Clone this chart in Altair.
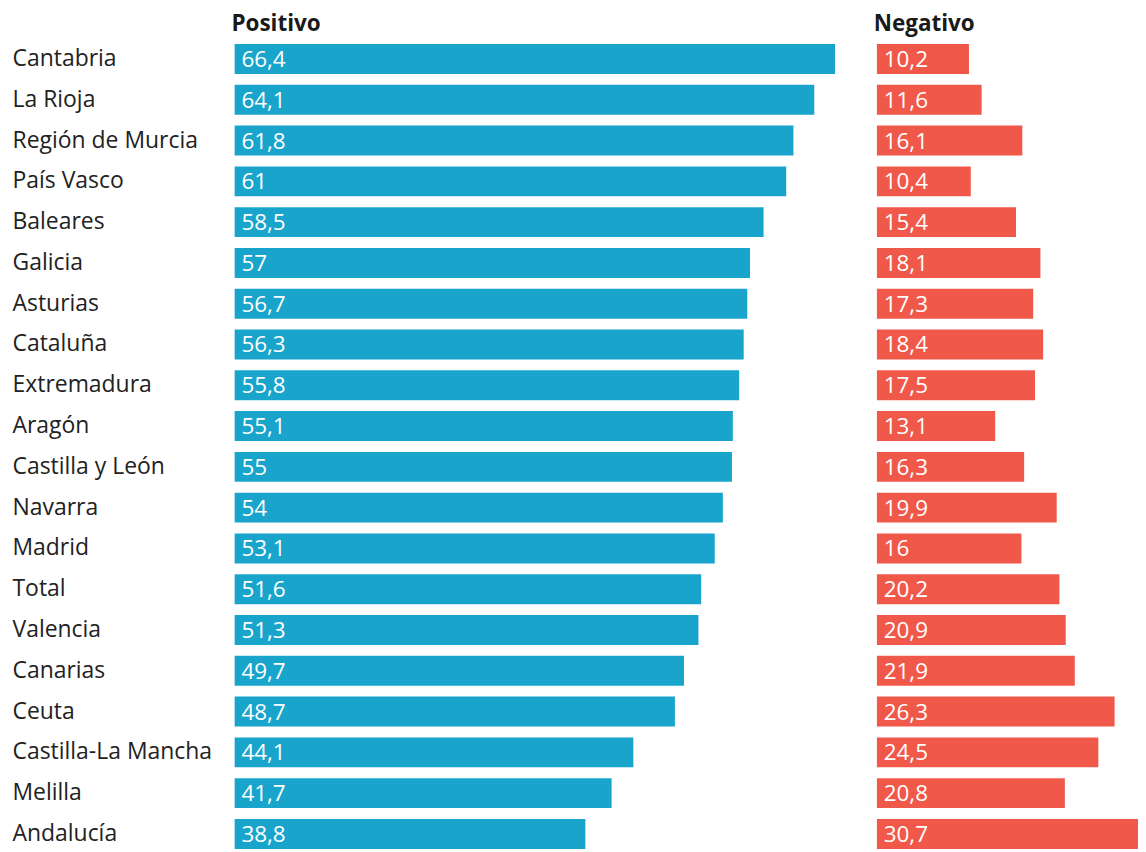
import altair as alt
import pandas as pd

regiones = ["Cantabria", "La Rioja", "Región de Murcia", "País Vasco", "Baleares", "Galicia",
            "Asturias", "Cataluña", "Extremadura", "Aragón", "Castilla y León", "Navarra",
            "Madrid", "Total", "Valencia", "Canarias", "Ceuta", "Castilla-La Mancha",
            "Melilla", "Andalucía"]
positivo = [66.4, 64.1, 61.8, 61, 58.5, 57, 56.7, 56.3, 55.8, 55.1, 55, 54, 53.1, 51.6,
            51.3, 49.7, 48.7, 44.1, 41.7, 38.8]
negativo = [10.2, 11.6, 16.1, 10.4, 15.4, 18.1, 17.3, 18.4, 17.5, 13.1, 16.3, 19.9, 16,
            20.2, 20.9, 21.9, 26.3, 24.5, 20.8, 30.7]

df = pd.DataFrame({"region": regiones, "pos": positivo, "neg": negativo})

FONT = "Open Sans"
BLUE = "#19a4cb"
RED = "#f0584a"
PX = 9.07  # pixels per unit
LW, RW = 620, 262
H = 807

yscale = alt.Scale(domain=regiones, paddingInner=0.266, paddingOuter=0)

def panel(field, color, width, title, show_axis):
    base = alt.Chart(df).transform_calculate(
        zero="0",
        lab=f"replace(toString(datum.{field}), '.', ',')"
    )
    if show_axis:
        ax = alt.Axis(title=None, ticks=False, tickSize=0, domain=False, grid=False,
                      labelAlign="left", labelPadding=223, labelFont=FONT,
                      labelFontSize=23, labelColor="#222222", labelLimit=400)
    else:
        ax = None
    yenc = alt.Y("region:N", sort=None, scale=yscale, axis=ax)
    xs = alt.Scale(domain=[0, width / PX], nice=False, zero=True)
    bars = base.mark_bar(color=color, clip=True).encode(
        y=yenc,
        x=alt.X(f"{field}:Q", scale=xs, axis=None),
    )
    txt = base.mark_text(align="left", baseline="middle", dx=7, dy=1, color="white",
                         font=FONT, fontSize=22.5).encode(
        y=yenc,
        x=alt.X("zero:Q", scale=xs, axis=None),
        text="lab:N",
    )
    return alt.layer(bars, txt).properties(
        width=width, height=H,
        title=alt.TitleParams(title, anchor="start", frame="group", font=FONT,
                              fontSize=22.5, fontWeight="bold", color="#1a1a1a",
                              offset=9, dx=-3)
    )

left = panel("pos", BLUE, LW, "Positivo", True)
right = panel("neg", RED, RW, "Negativo", False)

chart = alt.hconcat(left, right, spacing=21).properties(
    padding={"left": 4, "top": 3, "right": 0, "bottom": 0}
).configure_view(stroke=None)

chart.save("out.html", embed_options={"renderer": "svg", "actions": False})
